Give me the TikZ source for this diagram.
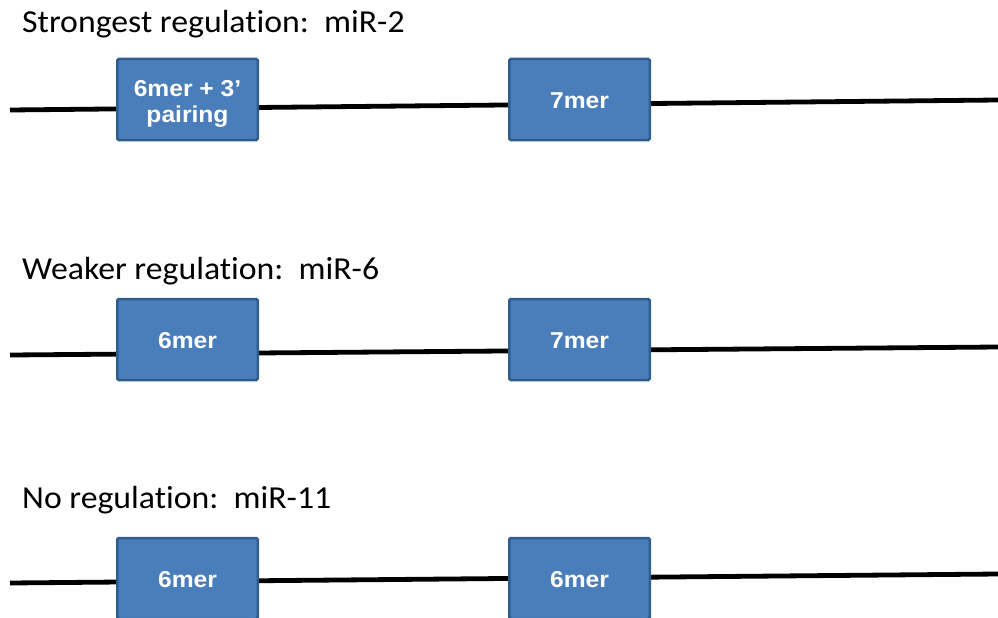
\documentclass[tikz,border=0pt]{standalone}
\usepackage{fontspec}
\setmainfont{Carlito}[Ligatures=NoCommon,FakeStretch=1.055]
\newfontfamily\sitefont{Liberation Sans}[FakeStretch=1.07]
\definecolor{siteblue}{HTML}{4A7EBB}
\definecolor{siteedge}{HTML}{2F5D8E}
\begin{document}
\begin{tikzpicture}[x=1pt,y=-1pt,
  site/.style={draw=siteedge,line width=2.5pt,fill=siteblue,rounded corners=1.5pt,
    minimum width=140.5pt,minimum height=81pt,inner sep=0pt,text=white,align=center,
    text height=18pt,text depth=0pt,
    font=\sitefont\bfseries\fontsize{23}{26}\selectfont},
  utr/.style={line width=4.8pt},
  rowtitle/.style={anchor=base west,inner sep=0pt,font=\fontsize{32}{36}\selectfont}]
  \useasboundingbox (0,0) rectangle (998,618);
  \clip (0,0) rectangle (998,618);

  % strongest
  \node[rowtitle] (t1) at (22,33) {Strongest regulation:\ \ miR-2};
  \coordinate (l1) at (10,110);
  \coordinate (r1) at (998,100);
  \draw[utr] (l1) -- (r1);
  \node[site,text height=47pt,text depth=2pt] (s11) at (187.5,99.5) {6mer + 3’\\pairing};
  \node[site] (s12) at (579.5,99.5) {7mer};

  % weaker
  \node[rowtitle] (t2) at (22,279) {Weaker regulation:\ \ miR-6};
  \coordinate (l2) at (10,355);
  \coordinate (r2) at (998,347);
  \draw[utr] (l2) -- (r2);
  \node[site] (s21) at (187.5,339.5) {6mer};
  \node[site] (s22) at (579.5,339.5) {7mer};

  % none
  \node[rowtitle] (t3) at (22,508) {No regulation:\ \ miR-11};
  \coordinate (l3) at (10,583);
  \coordinate (r3) at (998,574);
  \draw[utr] (l3) -- (r3);
  \node[site] (s31) at (187.5,578.5) {6mer};
  \node[site] (s32) at (579.5,578.5) {6mer};
\end{tikzpicture}
\end{document}
